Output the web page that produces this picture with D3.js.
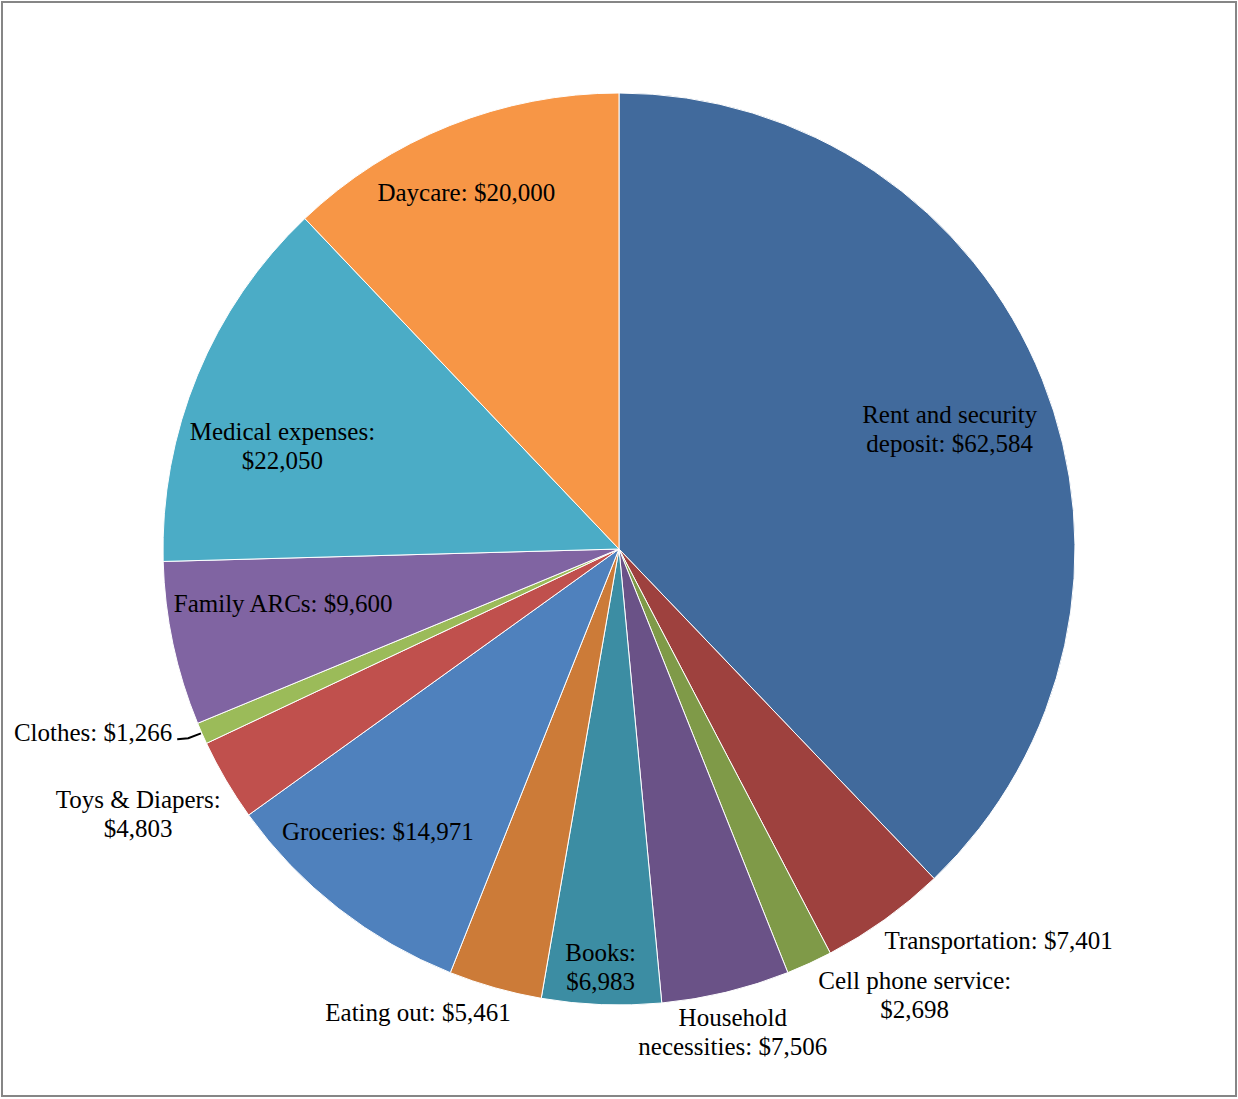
<!DOCTYPE html>
<html>
<head>
<meta charset="utf-8">
<script src="https://cdn.jsdelivr.net/npm/d3@7"></script>
<style>
  body { margin: 0; background: #fff; }
  svg { display: block; }
</style>
</head>
<body>
<svg id="chart"></svg>
<script>
// expense categories, clockwise from 12 o'clock
const categories = ["Rent and security deposit", "Transportation", "Cell phone service",
  "Household necessities", "Books", "Eating out", "Groceries", "Toys & Diapers",
  "Clothes", "Family ARCs", "Medical expenses", "Daycare"];
const amounts = [62584, 7401, 2698, 7506, 6983, 5461, 14971, 4803, 1266, 9600, 22050, 20000];
// label text, "|" is a line break, {v} the amount
const labelText = ["Rent and security|deposit: {v}", "Transportation: {v}", "Cell phone service:|{v}",
  "Household|necessities: {v}", "Books:|{v}", "Eating out: {v}", "Groceries: {v}", "Toys & Diapers:|{v}",
  "Clothes: {v}", "Family ARCs: {v}", "Medical expenses:|{v}", "Daycare: {v}"];
const colors = ["#416A9C", "#9E413E", "#7F9A48", "#6A5287", "#3C8DA3", "#CC7B38",
  "#4F81BD", "#C0504D", "#9BBB59", "#8064A2", "#4BACC6", "#F79646"];

// label placement: radius as share of pie radius, angle shift (deg) from slice middle
const labelRadius = [0.772, 1.195, 1.173, 1.088, 0.917, 1.107, 0.814, 1.204, 1.059, 0.746, 0.772, 0.851];
const labelShift  = [1.8, -8.5, -8.9, 0.3, 0.3, 7.7, 2.5, 1.6, 1.55, 2.9, -5.4, -1.4];

const width = 1238, height = 1099;
const cx = 619, cy = 549, R = 456;
const fontSize = 25, lineH = 29;

const svg = d3.select("#chart")
    .attr("width", width)
    .attr("height", height);

// chart frame
svg.append("rect")
    .attr("x", 2).attr("y", 2)
    .attr("width", width - 4).attr("height", height - 5)
    .attr("fill", "#fff")
    .attr("stroke", "#868686")
    .attr("stroke-width", 2);

const data = categories.map((c, i) => ({ name: c, value: amounts[i], i: i }));

const pie = d3.pie().sort(null).value(d => d.value);
const arcs = pie(data);
const arc = d3.arc().innerRadius(0).outerRadius(R);

const g = svg.append("g").attr("transform", `translate(${cx},${cy})`);

g.selectAll("path")
  .data(arcs)
  .join("path")
    .attr("d", arc)
    .attr("fill", d => colors[d.data.i])
    .attr("stroke", "#fff")
    .attr("stroke-width", 1)
    .attr("stroke-linejoin", "round");

const fmt = d3.format(",");
function polar(ang, r) {
  const a = ang * Math.PI / 180;
  return [r * Math.sin(a), -r * Math.cos(a)];
}

arcs.forEach(d => {
  const i = d.data.i;
  const mid = (d.startAngle + d.endAngle) / 2 * 180 / Math.PI;
  const [x, y] = polar(mid + labelShift[i], R * labelRadius[i]);
  const lines = labelText[i].replace("{v}", "$" + fmt(d.data.value)).split("|");
  const anchor = categories[i] === "Clothes" ? "end" : "middle";
  const t = g.append("text")
      .attr("font-family", "'Liberation Serif', 'Times New Roman', serif")
      .attr("font-size", fontSize)
      .attr("fill", "#000")
      .attr("text-anchor", anchor);
  lines.forEach((ln, k) => {
    t.append("tspan")
      .attr("x", x)
      .attr("y", y + (k - (lines.length - 1) / 2) * lineH)
      .attr("dy", "0.35em")
      .text(ln);
  });
  // leader line for the thin Clothes slice
  if (anchor === "end") {
    const edge = polar(mid, R);
    const p = d3.path();
    p.moveTo(x + 5, y + 7);
    p.lineTo(x + 16, y + 6);
    p.lineTo(edge[0] - 1, edge[1]);
    g.append("path")
      .attr("d", p.toString())
      .attr("fill", "none")
      .attr("stroke", "#000")
      .attr("stroke-width", 2);
  }
});
</script>
</body>
</html>
